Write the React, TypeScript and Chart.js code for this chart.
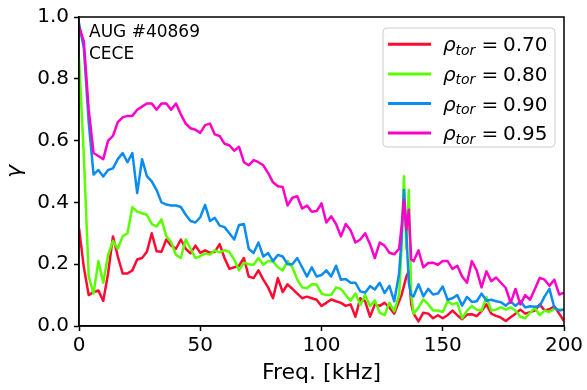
import React, { useEffect, useRef } from "react";
import { Chart, registerables } from "chart.js";

Chart.register(...registerables);

const freqKHz = [
  0, 2, 4, 6, 8, 10, 12, 14, 16, 18,
  20, 22, 24, 26, 28, 30, 32, 34, 36, 38,
  40, 42, 44, 46, 48, 50, 52, 54, 56, 58,
  60, 62, 64, 66, 68, 70, 72, 74, 76, 78,
  80, 82, 84, 86, 88, 90, 92, 94, 96, 98,
  100, 102, 104, 106, 108, 110, 112, 114, 116, 118,
  120, 122, 124, 126, 128, 130,
  132, 133, 134, 135, 136, 137,
  138, 140, 142, 144, 146, 148, 150, 152, 154, 156,
  158, 160, 162, 164, 166, 168, 170, 172, 174, 176,
  178, 180, 182, 184, 186, 188, 190, 192, 194, 196,
  198, 200,
];

const gammaRho070 = [
  0.317, 0.19, 0.10, 0.11, 0.115, 0.081, 0.17, 0.29, 0.225, 0.17,
  0.17, 0.18, 0.215, 0.22, 0.24, 0.30, 0.242, 0.24, 0.28, 0.26,
  0.25, 0.28, 0.25, 0.235, 0.26, 0.237, 0.245, 0.237, 0.24, 0.265,
  0.22, 0.185, 0.19, 0.195, 0.22, 0.16, 0.155, 0.18, 0.15, 0.125,
  0.09, 0.155, 0.11, 0.135, 0.12, 0.105, 0.09, 0.095, 0.09, 0.085,
  0.065, 0.075, 0.086, 0.08, 0.075, 0.065, 0.07, 0.03, 0.09, 0.08,
  0.03, 0.07, 0.065, 0.075, 0.06, 0.04,
  0.08, 0.10, 0.13, 0.16, 0.177, 0.07,
  0.04, 0.015, 0.043, 0.04, 0.025, 0.035, 0.025, 0.035, 0.05, 0.035,
  0.022, 0.037, 0.038, 0.032, 0.048, 0.07, 0.04, 0.033, 0.027, 0.016,
  0.028, 0.04, 0.053, 0.04, 0.045, 0.05, 0.07, 0.05, 0.054, 0.064,
  0.04, 0.016,
];

const gammaRho080 = [
  0.866, 0.55, 0.16, 0.105, 0.21, 0.14, 0.23, 0.275, 0.25, 0.29,
  0.30, 0.385, 0.37, 0.365, 0.36, 0.33, 0.322, 0.345, 0.29, 0.272,
  0.23, 0.22, 0.28, 0.25, 0.22, 0.226, 0.235, 0.231, 0.245, 0.238,
  0.245, 0.24, 0.215, 0.18, 0.205, 0.20, 0.198, 0.22, 0.198, 0.21,
  0.209, 0.19, 0.18, 0.21, 0.19, 0.15, 0.125, 0.122, 0.135, 0.134,
  0.105, 0.10, 0.10, 0.125, 0.12, 0.10, 0.082, 0.105, 0.068, 0.10,
  0.064, 0.083, 0.043, 0.035, 0.075, 0.048,
  0.10, 0.25, 0.485, 0.25, 0.44, 0.10,
  0.04, 0.06, 0.086, 0.07, 0.05, 0.05, 0.045, 0.08, 0.07, 0.075,
  0.025, 0.05, 0.065, 0.053, 0.05, 0.094, 0.05, 0.053, 0.06, 0.053,
  0.06, 0.05, 0.03, 0.025, 0.043, 0.058, 0.035, 0.05, 0.045, 0.056,
  0.053, 0.053,
];

const gammaRho090 = [
  0.98, 0.90, 0.66, 0.49, 0.505, 0.484, 0.505, 0.51, 0.54, 0.56,
  0.53, 0.56, 0.43, 0.54, 0.485, 0.468, 0.44, 0.40, 0.393, 0.39,
  0.39, 0.385, 0.36, 0.34, 0.335, 0.352, 0.392, 0.34, 0.35, 0.325,
  0.32, 0.30, 0.28, 0.327, 0.33, 0.25, 0.236, 0.27, 0.225, 0.236,
  0.21, 0.23, 0.225, 0.20, 0.20, 0.22, 0.19, 0.16, 0.19, 0.16,
  0.165, 0.18, 0.16, 0.195, 0.15, 0.152, 0.14, 0.14, 0.112, 0.108,
  0.129, 0.118, 0.14, 0.107, 0.13, 0.08,
  0.17, 0.28, 0.44, 0.30, 0.14, 0.10,
  0.096, 0.135, 0.096, 0.12, 0.102, 0.105, 0.128, 0.085, 0.09, 0.10,
  0.066, 0.094, 0.078, 0.08, 0.105, 0.082, 0.085, 0.08, 0.077, 0.066,
  0.08, 0.065, 0.08, 0.06, 0.064, 0.062, 0.064, 0.096, 0.12, 0.06,
  0.05, 0.053,
];

const gammaRho095 = [
  0.97, 0.92, 0.70, 0.56, 0.55, 0.54, 0.60, 0.615, 0.66, 0.675,
  0.68, 0.68, 0.70, 0.71, 0.72, 0.72, 0.70, 0.72, 0.72, 0.70,
  0.72, 0.685, 0.655, 0.64, 0.635, 0.625, 0.65, 0.655, 0.62, 0.615,
  0.59, 0.585, 0.567, 0.58, 0.53, 0.52, 0.537, 0.53, 0.52, 0.495,
  0.465, 0.452, 0.45, 0.39, 0.415, 0.42, 0.38, 0.39, 0.37, 0.372,
  0.397, 0.335, 0.355, 0.33, 0.29, 0.33, 0.31, 0.27, 0.28, 0.30,
  0.265, 0.22, 0.27, 0.26, 0.237, 0.232,
  0.25, 0.32, 0.408, 0.311, 0.376, 0.215,
  0.21, 0.245, 0.19, 0.204, 0.205, 0.198, 0.21, 0.21, 0.185, 0.195,
  0.16, 0.14, 0.21, 0.18, 0.125, 0.177, 0.145, 0.157, 0.14, 0.123,
  0.075, 0.12, 0.07, 0.10, 0.085, 0.12, 0.156, 0.15, 0.13, 0.15,
  0.102, 0.108,
];

const seriesValues = [gammaRho070, gammaRho080, gammaRho090, gammaRho095];
const rhoLabels = ["0.70", "0.80", "0.90", "0.95"];
const seriesColors = ["#ff0a32", "#5aff00", "#0a8cf0", "#ff00c8"];
const xTickValues = [0, 50, 100, 150, 200];
const yTickValues = [0, 0.2, 0.4, 0.6, 0.8, 1.0];
const annotationLines = ["AUG #40869", "CECE"];
const xTitle = "Freq. [kHz]";
const yTitle = "γ";

const FONT = '"DejaVu Sans", "Liberation Sans", sans-serif';

const decorPlugin = {
  id: "decor",
  afterDatasetsDraw(chart: any) {
    const ctx = chart.ctx as CanvasRenderingContext2D;
    const { left, top, right, bottom } = chart.chartArea;
    ctx.save();

    // full frame (spines)
    ctx.strokeStyle = "#000";
    ctx.lineWidth = 1.5;
    ctx.strokeRect(left, top, right - left, bottom - top);

    // annotation text
    ctx.fillStyle = "#000";
    ctx.font = `17px ${FONT}`;
    ctx.textAlign = "left";
    ctx.textBaseline = "alphabetic";
    annotationLines.forEach((t, i) => {
      ctx.fillText(t, left + 10, top + 20 + i * 22);
    });

    // legend box
    const bx = right - 181;
    const by = top + 11;
    const bw = 172;
    const bh = 119;
    const r = 4;
    ctx.beginPath();
    ctx.moveTo(bx + r, by);
    ctx.lineTo(bx + bw - r, by);
    ctx.arcTo(bx + bw, by, bx + bw, by + r, r);
    ctx.lineTo(bx + bw, by + bh - r);
    ctx.arcTo(bx + bw, by + bh, bx + bw - r, by + bh, r);
    ctx.lineTo(bx + r, by + bh);
    ctx.arcTo(bx, by + bh, bx, by + bh - r, r);
    ctx.lineTo(bx, by + r);
    ctx.arcTo(bx, by, bx + r, by, r);
    ctx.closePath();
    ctx.fillStyle = "rgba(255,255,255,0.8)";
    ctx.fill();
    ctx.strokeStyle = "#cccccc";
    ctx.lineWidth = 1;
    ctx.stroke();

    rhoLabels.forEach((lab, i) => {
      const y = by + 16.3 + i * 29.6;
      ctx.strokeStyle = seriesColors[i];
      ctx.lineWidth = 3;
      ctx.lineCap = "butt";
      ctx.beginPath();
      ctx.moveTo(bx + 5, y);
      ctx.lineTo(bx + 48, y);
      ctx.stroke();

      ctx.fillStyle = "#000";
      ctx.textAlign = "left";
      ctx.textBaseline = "alphabetic";
      ctx.font = `italic 20px ${FONT}`;
      ctx.fillText("ρ", bx + 60, y + 7);
      ctx.font = `italic 14px ${FONT}`;
      ctx.fillText("tor", bx + 72.5, y + 10.5);
      ctx.font = `20px ${FONT}`;
      ctx.fillText("=", bx + 98.5, y + 7);
      ctx.fillText(lab, bx + 120, y + 7);
    });

    ctx.restore();
  },
};

export default function App() {
  const canvasRef = useRef<HTMLCanvasElement | null>(null);

  useEffect(() => {
    document.body.style.margin = "0";
    const canvas = canvasRef.current;
    if (!canvas) return;

    const datasets = seriesValues.map((vals, i) => ({
      label: `ρtor = ${rhoLabels[i]}`,
      data: freqKHz.map((f, j) => ({ x: f, y: vals[j] })),
      borderColor: seriesColors[i],
      backgroundColor: seriesColors[i],
      borderWidth: 2.5,
      pointRadius: 0,
      tension: 0,
      fill: false,
      borderJoinStyle: "round" as const,
      order: seriesValues.length - i,
    }));

    const chart = new Chart(canvas, {
      type: "line",
      data: { datasets },
      options: {
        responsive: false,
        animation: false,
        devicePixelRatio: 1,
        layout: { padding: { left: 0, right: 23, top: 16, bottom: 0 } },
        plugins: {
          legend: { display: false },
          tooltip: { enabled: false },
        },
        scales: {
          x: {
            type: "linear",
            min: 0,
            max: 200,
            afterBuildTicks: (s: any) => {
              s.ticks = xTickValues.map((v) => ({ value: v }));
            },
            afterFit: (s: any) => {
              s.height = 64;
            },
            grid: {
              drawOnChartArea: false,
              drawTicks: true,
              tickLength: 5,
              tickWidth: 1.5,
              tickColor: "#000",
            },
            border: { display: true, color: "#000", width: 1.5 },
            ticks: {
              color: "#000",
              font: { family: FONT, size: 20 },
              padding: 3,
              maxRotation: 0,
              callback: (v: any) => String(v),
            },
            title: {
              display: true,
              text: xTitle,
              color: "#000",
              font: { family: FONT, size: 22 },
              padding: { top: 0, bottom: 4 },
            },
          },
          y: {
            type: "linear",
            min: 0,
            max: 1,
            afterBuildTicks: (s: any) => {
              s.ticks = yTickValues.map((v) => ({ value: v }));
            },
            afterFit: (s: any) => {
              s.width = 79;
            },
            grid: {
              drawOnChartArea: false,
              drawTicks: true,
              tickLength: 5,
              tickWidth: 1.5,
              tickColor: "#000",
            },
            border: { display: true, color: "#000", width: 1.5 },
            ticks: {
              color: "#000",
              font: { family: FONT, size: 20 },
              padding: 5,
              callback: (v: any) => Number(v).toFixed(1),
            },
            title: {
              display: true,
              text: yTitle,
              color: "#000",
              font: { family: FONT, size: 22, style: "italic" },
              padding: { top: 2, bottom: 0 },
            },
          },
        },
      },
      plugins: [decorPlugin],
    });

    return () => {
      chart.destroy();
    };
  }, []);

  return (
    <div style={{ position: "absolute", left: 0, top: 0, width: 587, height: 390, background: "#fff" }}>
      <canvas ref={canvasRef} width={587} height={390} style={{ width: 587, height: 390, display: "block" }} />
    </div>
  );
}
